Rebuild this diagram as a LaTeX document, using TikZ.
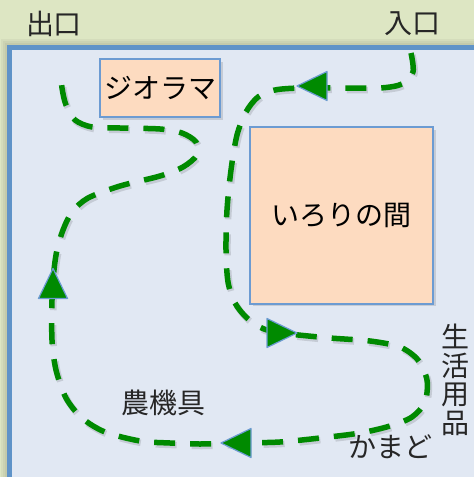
\documentclass[tikz,border=0pt]{standalone}
\usepackage{fontspec}
\newfontfamily\jp{Noto Sans CJK JP}
\definecolor{bggreen}{HTML}{DDE6C3}
\definecolor{panelfill}{HTML}{E1E8F3}
\definecolor{panelborder}{HTML}{5F93C8}
\definecolor{peach}{HTML}{FDDBC0}
\definecolor{boxborder}{HTML}{6C9BD2}
\definecolor{pathgreen}{HTML}{008A00}
\tikzset{
  room/.style={draw=boxborder, fill=peach, line width=1.2pt, inner sep=0pt,
    font=\jp\fontsize{28}{30}\selectfont},
  lbl/.style={inner sep=0pt, font=\jp\fontsize{28}{28.5}\selectfont, text=black!85},
  flow/.style={draw=pathgreen, line width=5.5pt, dash pattern=on 21pt off 15pt},
  flowshadow/.style={draw=black, opacity=0.12, line width=6.5pt, dash pattern=on 21pt off 15pt},
  flowarrow/.pic={\filldraw[fill=pathgreen, draw=boxborder, line width=1.2pt, line join=round]
     (15,0) -- (-15,14.5) -- (-15,-14.5) -- cycle;}
}
\def\routepts{(411,53) (413,72) (402,84) (380,88) (340,88) (300,88) (275,90) (258,97) (246,112) (237,135) (231,170) (227,210) (226,250) (228,282) (235,303) (247,318) (264,329) (290,334) (330,338) (370,341) (400,347) (418,360) (427,380) (425,402) (412,417) (390,426) (360,433) (320,438) (280,442) (240,443) (200,444) (170,443) (140,441) (105,432) (82,418) (66,398) (56,370) (52,340) (52,300) (54,270) (57,250) (63,230) (72,212) (88,198) (120,186) (160,176) (183,167) (197,155) (196,142) (182,133) (160,129) (120,128) (92,127) (75,120) (66,105) (62,88) (61,73)}
\begin{document}
\begin{tikzpicture}[x=1pt,y=-1pt]
\useasboundingbox (0,0) rectangle (474,477);
\begin{scope}
\clip (0,0) rectangle (474,477);
\fill[bggreen] (0,0) rectangle (474,477);
% panel shadow
\foreach \d in {9,7,5,3} {\fill[black,opacity=0.04] (9.5-\d,47.5-\d) rectangle (490,490);}
\filldraw[fill=panelfill, draw=panelborder, line width=5pt] (9.5,47.5) rectangle (495,495);
\end{scope}
% rooms
\fill[black,opacity=0.12] (102.5,61.5) rectangle (222.5,119.5);
\fill[black,opacity=0.12] (252.5,129.5) rectangle (435.5,305.5);
\node[room, minimum width=120pt, minimum height=58pt] (diorama) at (160,88) {ジオラマ};
\node[room, minimum width=183pt, minimum height=177pt] (irori) at (341.5,215.5) {いろりの間};
% labels
\node[lbl] (exit) at (54,24) {出口};
\node[lbl] (entry) at (412,24) {入口};
\node[lbl, align=center] (goods) at (455,380) {生\\活\\用\\品};
\node[lbl] (kamado) at (390,447) {かまど};
\node[lbl] (noki) at (163,403) {農機具};
% route
\begin{scope}[shift={(1.5,2)}]
\draw[flowshadow] plot[smooth, tension=0.5] coordinates {\routepts};
\end{scope}
\draw[flow] plot[smooth, tension=0.5] coordinates {\routepts};
% arrows
\pic[rotate=180] at (312,86) {flowarrow};
\pic at (282,333) {flowarrow};
\pic[rotate=180] at (236,443) {flowarrow};
\pic[rotate=90] at (53,283.5) {flowarrow};
\end{tikzpicture}
\end{document}
